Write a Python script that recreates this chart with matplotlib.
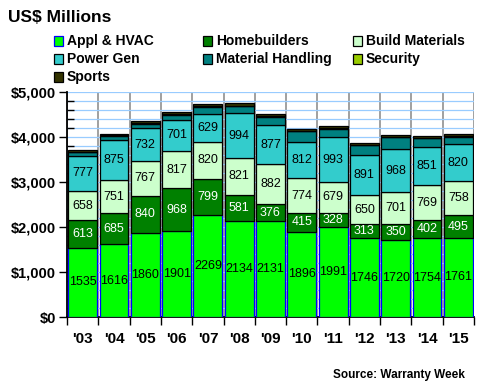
import numpy as np
import matplotlib.pyplot as plt
from matplotlib.patches import Rectangle
from matplotlib.ticker import MultipleLocator, FixedLocator, NullFormatter

plt.rcParams['font.family'] = ['Liberation Sans', 'DejaVu Sans']

years = ["'03", "'04", "'05", "'06", "'07", "'08", "'09", "'10", "'11", "'12", "'13", "'14", "'15"]
appl_hvac = [1535, 1616, 1860, 1901, 2269, 2134, 2131, 1896, 1991, 1746, 1720, 1754, 1761]
homebuilders = [613, 685, 840, 968, 799, 581, 376, 415, 328, 313, 350, 402, 495]
build_materials = [658, 751, 767, 817, 820, 821, 882, 774, 679, 650, 701, 769, 758]
power_gen = [777, 875, 732, 701, 629, 994, 877, 812, 993, 891, 968, 851, 820]
# not labelled in the chart
material_handling = [80, 95, 100, 105, 150, 150, 180, 230, 190, 215, 250, 200, 170]
security = [13, 12, 15, 15, 25, 20, 15, 15, 15, 15, 15, 12, 15]
sports = [30, 35, 45, 45, 45, 53, 47, 45, 45, 45, 43, 38, 57]

series = [
    ("Appl & HVAC", appl_hvac, '#00FF00', '#0000FF', 'black'),
    ("Homebuilders", homebuilders, '#008000', 'black', 'white'),
    ("Build Materials", build_materials, '#CCFFCC', 'black', 'black'),
    ("Power Gen", power_gen, '#33CCCC', 'black', 'black'),
    ("Material Handling", material_handling, '#008080', 'black', None),
    ("Security", security, '#99CC00', 'black', None),
    ("Sports", sports, '#333300', 'black', None),
]

W, H = 480, 390
fig = plt.figure(figsize=(4.8, 3.9), dpi=100)
ax = fig.add_axes([67 / W, 1 - 317 / H, 407 / W, 225 / H])

index = np.arange(len(years))
bottom = np.zeros(len(years))
for name, values, color, edge, label_color in series:
    values = np.array(values, dtype=float)
    ax.bar(index, values, 0.92, bottom=bottom, color=color,
           edgecolor=edge, linewidth=0.9, zorder=3)
    if label_color is not None:
        for i in index:
            ax.text(i, bottom[i] + values[i] / 2, str(int(values[i])),
                    ha='center', va='center', fontsize=9,
                    color=label_color, zorder=4)
    bottom += values

ax.set_xlim(-0.5, len(years) - 0.5)
ax.set_ylim(0, 5000)

# y axis
ax.yaxis.set_major_locator(MultipleLocator(1000))
ax.yaxis.set_minor_locator(MultipleLocator(200))
ax.set_yticklabels([f"${v:,.0f}" for v in ax.get_yticks()],
                   fontsize=10.5, fontweight='bold')
ax.tick_params(axis='y', which='major', direction='out', length=6,
               width=1, pad=2)
ax.tick_params(axis='y', which='minor', direction='in', length=5, width=1)
ax.grid(axis='y', which='both', color='#99CCFF', linewidth=0.9, zorder=0)

# x axis: ticks at the category borders, labels in the middle
ax.xaxis.set_major_locator(FixedLocator(np.arange(-0.5, len(years), 1.0)))
ax.xaxis.set_major_formatter(NullFormatter())
ax.xaxis.set_minor_locator(FixedLocator(index))
ax.set_xticklabels(years, minor=True, fontsize=11, fontweight='bold')
ax.tick_params(axis='x', which='major', direction='out', length=6, width=1)
ax.tick_params(axis='x', which='minor', length=0, pad=11)
ax.grid(axis='x', which='major', color='#999999', linewidth=1.3, zorder=0)
ax.set_axisbelow(True)

for side in ['top', 'right']:
    ax.spines[side].set_visible(False)
ax.spines['left'].set_linewidth(1.3)
ax.spines['bottom'].set_linewidth(1.3)

fig.text(8 / W, 1 - 17 / H, "US$ Millions", fontsize=12.5,
         fontweight='bold', va='center', ha='left')

# legend laid out in rows like the original
col_x = [54, 203, 353]
row_y = [41, 59, 77]
for k, (name, values, color, edge, label_color) in enumerate(series):
    cx = col_x[k % 3]
    cy = row_y[k // 3]
    fig.add_artist(Rectangle((cx / W, 1 - (cy + 4.5) / H), 9 / W, 9 / H,
                             transform=fig.transFigure, facecolor=color,
                             edgecolor=edge, linewidth=0.9))
    fig.text((cx + 13) / W, 1 - cy / H, name, fontsize=10,
             fontweight='bold', va='center', ha='left')

fig.text(465 / W, 1 - 375 / H, "Source: Warranty Week", fontsize=8.5,
         fontweight='bold', va='center', ha='right')

plt.savefig("out.png", dpi=100)
